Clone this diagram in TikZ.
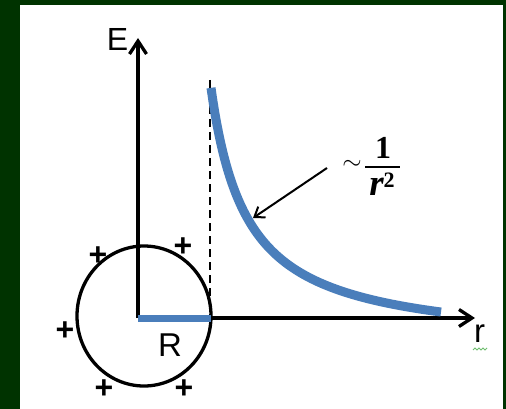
\documentclass[tikz,border=0pt]{standalone}
\usepackage[no-math]{fontspec}
\setmainfont{Liberation Sans}
\newfontfamily\fracfont{Liberation Serif}
\usetikzlibrary{arrows.meta}
\definecolor{frame}{RGB}{0,51,0}
\definecolor{curveblue}{RGB}{74,126,187}
\definecolor{spell}{RGB}{110,190,110}
\tikzset{
  axis/.style={line width=3.3pt, -{Straight Barb[length=13pt,width=17pt,line width=3.3pt]}},
  pointer/.style={line width=2pt, -{Straight Barb[length=9pt,width=13pt,line width=2pt]}},
  bluecurve/.style={curveblue, line width=9pt},
  plus/.style={inner sep=0pt, font=\fontsize{32}{34}\selectfont\bfseries},
  lbl/.style={inner sep=0pt, font=\fontsize{32}{34}\selectfont},
  fracpart/.style={inner sep=0pt, font=\fontsize{32}{34}\selectfont\fracfont\bfseries},
}
\begin{document}
\begin{tikzpicture}[x=1pt,y=-1pt]
\useasboundingbox (0,0) rectangle (506,409);
\fill[frame] (0,0) rectangle (506,409);
\fill[white] (20,5) rectangle (503,409);

\coordinate (O) at (138,318);
\coordinate (Etip) at (138,38);
\coordinate (rtip) at (475,318);
\coordinate (Rpt) at (211,318);
\coordinate (dtop) at (210,80);
\coordinate (dbot) at (210,318);

% circle
\draw[line width=3.3pt] (144,316) ellipse [x radius=67, y radius=70];

% axes
\draw[axis] (O) -- (Etip);
\draw[axis] (O) -- (rtip);

% dashed line
\draw[line width=2.2pt, dash pattern=on 8pt off 5pt] (dtop) -- (dbot);

% blue radius bar
\draw[curveblue, line width=7pt] (O) -- (Rpt);

% blue curve ~ 1/r^2
\draw[bluecurve] plot[domain=211:441, samples=120] (\x, {318 - 9333/(\x-175) + 29.1});

% labels
\node[lbl] (E) at (117.5,39) {E};
\node[lbl, font=\fontsize{33}{35}\selectfont] (r) at (479.5,333.5) {r};
\node[lbl, font=\fontsize{33}{35}\selectfont] (R) at (170,345) {R};

% ~ 1/r^2
\node[inner sep=0pt, font=\fontsize{26}{28}\selectfont] (tilde) at (352,165) {$\sim$};
\node[fracpart] (num) at (383,148) {1};
\node[fracpart, anchor=base] (den) at (382,195) {{\fontsize{37}{39}\selectfont\itshape r}{\fontsize{22}{24}\selectfont\raisebox{8pt}{2}}};
\coordinate (barL) at (365,167);
\coordinate (barR) at (400,167);
\draw[line width=2.2pt] (barL) -- (barR);

\coordinate (atail) at (327,168);
\coordinate (ahead) at (253,218);
\draw[pointer] (atail) -- (ahead);

% plus signs
\node[plus] (p1) at (98,256) {+};
\node[plus] (p2) at (183,247) {+};
\node[plus] (p3) at (65,331) {+};
\node[plus] (p4) at (104,389) {+};
\node[plus] (p5) at (184,389) {+};

% spell-check squiggle
\draw[spell, line width=0.8pt] (473,350) -- (475,348) -- (477,350) -- (479,348) -- (481,350) -- (483,348) -- (485,350) -- (487,348);
\end{tikzpicture}
\end{document}
